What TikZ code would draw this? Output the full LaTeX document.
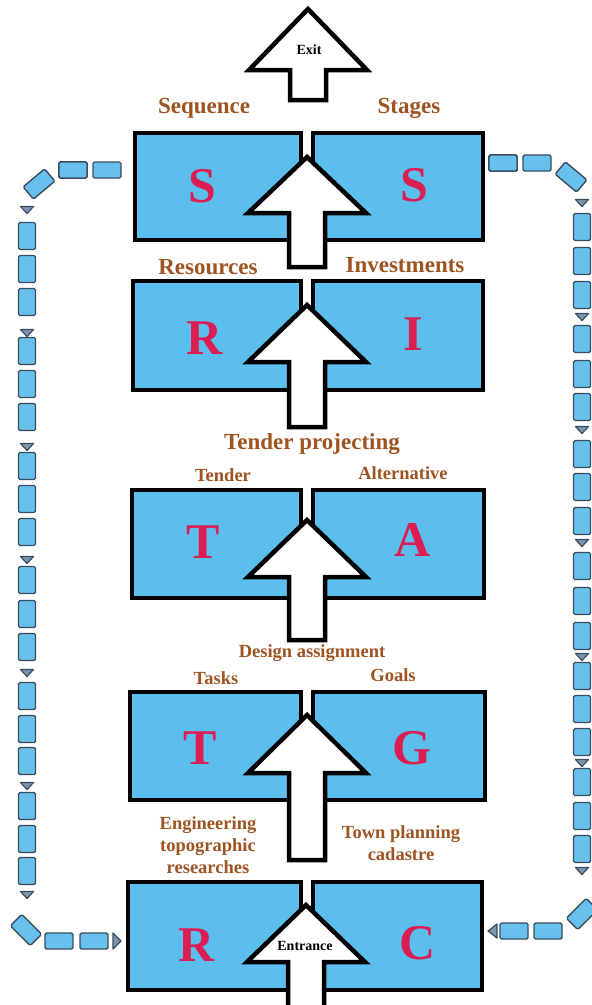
\documentclass[tikz,border=0pt]{standalone}
\usepackage{fontspec}
\setmainfont{Liberation Serif}
\definecolor{boxblue}{RGB}{92,190,236}
\definecolor{chainblue}{RGB}{104,192,236}
\definecolor{chainedge}{RGB}{58,76,96}
\definecolor{trifill}{RGB}{120,150,175}
\definecolor{lettercol}{RGB}{218,30,82}
\definecolor{labcol}{RGB}{158,84,34}
\newcommand{\uparr}[4]{% center x, tip y, base y, bottom y
  \draw[barrow] (#1,#2) -- (#1+59,#3) -- (#1+18,#3) -- (#1+18,#4) -- (#1-18,#4) -- (#1-18,#3) -- (#1-59,#3) -- cycle;}
\newcommand{\dtri}[2]{\draw[tri] (#1-6.5,#2-3.5) -- (#1+6.5,#2-3.5) -- (#1,#2+3.5) -- cycle;}
\begin{document}
\begin{tikzpicture}[x=1pt,y=-1pt,
  bx/.style={draw=black, line width=4.5pt, fill=boxblue, inner sep=0pt, outer sep=0pt},
  barrow/.style={draw=black, line width=4.5pt, fill=white, line join=miter},
  letter/.style={text=lettercol, font=\fontsize{50}{50}\selectfont\bfseries, inner sep=0pt},
  lab/.style={text=labcol, font=\fontsize{18.5}{22}\selectfont\bfseries, align=center, inner sep=0pt},
  biglab/.style={text=labcol, font=\fontsize{23}{26}\selectfont\bfseries, inner sep=0pt},
  arrtext/.style={text=black, font=\fontsize{14}{14}\selectfont\bfseries, inner sep=0pt},
  chv/.style={draw=chainedge, line width=1.4pt, fill=chainblue, minimum width=17pt, minimum height=27pt, inner sep=0pt, rounded corners=1.5pt},
  chh/.style={draw=chainedge, line width=1.4pt, fill=chainblue, minimum width=28pt, minimum height=16pt, inner sep=0pt, rounded corners=1.5pt},
  tri/.style={draw=chainedge, line width=1.2pt, fill=trifill, line join=round}]
\useasboundingbox (0,0) rectangle (592,1005);
\fill[white] (0,0) rectangle (592,1005);

% ---- chain, left side
\foreach \y in {236,269,302,351,384,417,466,499,532,580,614,647,696,729,761,806,839,871}
  \node[chv] (cl\y) at (27,\y) {};
\foreach \y in {210,333,447,560,673,786,895} \dtri{27}{\y}
\node[chh] (clt1) at (73,170) {};
\node[chh] (clt2) at (107,170) {};
\node[chh, rotate=40] (cltd) at (39,184) {};
\node[chh, rotate=-45] (clbd) at (26,930) {};
\node[chh] (clb1) at (59,941) {};
\node[chh] (clb2) at (94,941) {};
\draw[tri] (113,933) -- (121,941) -- (113,949) -- cycle;

% ---- chain, right side
\foreach \y in {227,261,295,339,374,407,454,487,521,566,601,636,676,709,742,782,816,849}
  \node[chv] (cr\y) at (582,\y) {};
\foreach \y in {203,317,430,543,657,763,871} \dtri{582}{\y}
\node[chh] (crt1) at (503,163) {};
\node[chh] (crt2) at (537,163) {};
\node[chh, rotate=-40] (crtd) at (571,177) {};
\node[chh, rotate=45] (crbd) at (582,914) {};
\node[chh] (crb1) at (514,931) {};
\node[chh] (crb2) at (548,931) {};
\draw[tri] (497,924) -- (488,931) -- (497,938) -- cycle;

% ---- boxes
\node[bx, minimum width=166pt, minimum height=107pt] (b1L) at (218,186.5) {};
\node[bx, minimum width=170pt, minimum height=107pt] (b1R) at (398,186.5) {};
\node[bx, minimum width=168pt, minimum height=109pt] (b2L) at (217,335.5) {};
\node[bx, minimum width=170pt, minimum height=109pt] (b2R) at (398,335.5) {};
\node[bx, minimum width=169pt, minimum height=108pt] (b3L) at (216.5,544) {};
\node[bx, minimum width=171pt, minimum height=108pt] (b3R) at (398.5,544) {};
\node[bx, minimum width=171pt, minimum height=108pt] (b4L) at (215.5,746) {};
\node[bx, minimum width=172pt, minimum height=108pt] (b4R) at (399,746) {};
\node[bx, minimum width=173pt, minimum height=108pt] (b5L) at (214.5,936) {};
\node[bx, minimum width=169pt, minimum height=108pt] (b5R) at (397.5,936) {};

% ---- block arrows
\uparr{308}{9}{70}{100}
\uparr{307}{157}{213}{267}
\uparr{307}{305}{362}{427}
\uparr{307}{520}{577}{640}
\uparr{307}{715}{773}{860}
\uparr{306}{905}{962}{1012}
\node[arrtext] (exit) at (309,50) {Exit};
\node[arrtext] (entr) at (305,946) {Entrance};

% ---- letters
\node[letter] (l1a) at (202,186) {S};
\node[letter] (l1b) at (414,185) {S};
\node[letter] (l2a) at (205,338) {R};
\node[letter] (l2b) at (413,334) {I};
\node[letter] (l3a) at (203,542) {T};
\node[letter] (l3b) at (413,540) {A};
\node[letter] (l4a) at (200,748) {T};
\node[letter] (l4b) at (412,748) {G};
\node[letter] (l5a) at (197,945) {R};
\node[letter] (l5b) at (418,943) {C};

% ---- labels
\node[biglab] (t1) at (204,108) {Sequence};
\node[biglab] (t2) at (409,108) {Stages};
\node[biglab] (t3) at (208,267) {Resources};
\node[biglab] (t4) at (405,265) {Investments};
\node[biglab] (t5) at (312,444) {Tender projecting};
\node[lab] (t6) at (223,475) {Tender};
\node[lab] (t7) at (403,473) {Alternative};
\node[lab] (t8) at (312,653) {Design assignment};
\node[lab] (t9) at (216,678) {Tasks};
\node[lab] (t10) at (393,675) {Goals};
\node[lab] (t11) at (208,845) {Engineering\\topographic\\researches};
\node[lab] (t12) at (401,843) {Town planning\\cadastre};
\end{tikzpicture}
\end{document}
